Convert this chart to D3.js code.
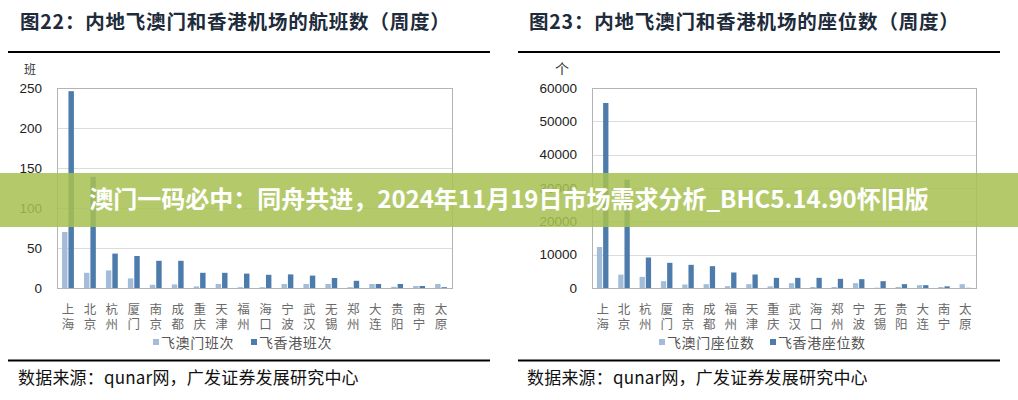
<!DOCTYPE html>
<html><head><meta charset="utf-8">
<script src="https://cdn.jsdelivr.net/npm/d3@7"></script>
<style>
html,body{margin:0;padding:0;background:#fff;}
svg{display:block;font-family:"Noto Sans CJK SC","Noto Sans",sans-serif;}
</style></head>
<body><svg id="c" width="1018" height="400"></svg>
<script>
// ---- data ----
const flightCities = ["上海","北京","杭州","厦门","南京","成都","重庆","天津","福州","海口","宁波","武汉","无锡","郑州","大连","贵阳","南宁","太原"];
const flightsMacau = [70,19,22,12,4,4.5,2,5,1,1,5,5,5,1,5,1.5,2.5,5];
const flightsHK    = [246,139,43,40,34,34,19,19,18,16.5,17,15.5,12.5,9,5,5,2.5,1];
const flightTicks  = [0,50,100,150,200,250];

const seatCities = ["上海","北京","杭州","厦门","南京","成都","福州","天津","重庆","武汉","海口","郑州","宁波","无锡","贵阳","大连","南宁","太原"];
const seatsMacau = [12300,4000,3350,2050,1050,1150,550,1150,500,1450,300,300,1450,100,300,850,300,1150];
const seatsHK    = [55500,32500,9150,7550,6950,6550,4650,4050,3050,3050,3050,2750,2650,2050,1150,850,500,50];
const seatTicks  = [0,10000,20000,30000,40000,50000,60000];

const svg = d3.select("#c");
const lightC = "#a3bdd9", darkC = "#4d7cac";

function panel(o){
  const g = svg.append("g");
  // title
  g.append("text").attr("x",o.titleX).attr("y",29).text(o.title)
    .attr("font-size",19.5).attr("font-weight","bold").attr("fill","#1d2b3b")
    .attr("letter-spacing",0.8);
  g.append("line").attr("x1",o.ruleX1).attr("x2",o.ruleX2).attr("y1",52).attr("y2",52)
    .attr("stroke","#000").attr("stroke-width",2);
  g.append("line").attr("x1",o.ruleX1).attr("x2",o.ruleX2).attr("y1",360.5).attr("y2",360.5)
    .attr("stroke","#000").attr("stroke-width",2);
  g.append("text").attr("x",o.titleX-2).attr("y",384).text("数据来源：qunar网，广发证券发展研究中心")
    .attr("font-size",17).attr("fill","#111").attr("letter-spacing",0.2);

  const x = d3.scaleBand().domain(o.cats).range([o.x0,o.x1]).paddingInner(0.46).paddingOuter(0.23);
  const xs = d3.scaleBand().domain([0,1]).range([0,x.bandwidth()]).paddingInner(0.15);
  const y = d3.scaleLinear().domain([0,o.max]).range([288,88]);

  // grid
  g.append("g").selectAll("line").data(o.ticks.slice(1)).join("line")
    .attr("x1",o.x0).attr("x2",o.x1).attr("y1",d=>Math.round(y(d))+0.5).attr("y2",d=>Math.round(y(d))+0.5)
    .attr("stroke","#dcdcdc");
  // frame
  g.append("rect").attr("x",o.x0+0.5).attr("y",88.5).attr("width",o.x1-o.x0).attr("height",200)
    .attr("fill","none").attr("stroke","#b4b4b4");

  // y axis
  const ya = g.append("g").attr("transform",`translate(${o.x0},0)`)
    .call(d3.axisLeft(y).tickValues(o.ticks).tickSize(0).tickPadding(o.tickPad).tickFormat(d3.format("d")));
  ya.select(".domain").remove();
  ya.selectAll("text").attr("font-size",13.5).attr("fill","#222").attr("font-family","Liberation Sans, Arial, sans-serif");
  g.append("text").attr("x",o.unitX).attr("y",74).attr("text-anchor","middle").text(o.unit)
    .attr("font-size",o.unitSize).attr("fill","#333");

  // bars
  const series = [o.a, o.b];
  const cols = [lightC, darkC];
  series.forEach((vals,si)=>{
    g.append("g").selectAll("rect").data(vals).join("rect")
      .attr("x",(d,i)=>x(o.cats[i])+xs(si))
      .attr("width",xs.bandwidth())
      .attr("y",d=>y(d)).attr("height",d=>288-y(d))
      .attr("fill",cols[si]);
  });

  // x labels (vertical text)
  g.append("g").selectAll("text").data(o.cats).join("text")
    .attr("x",d=>x(d)+x.bandwidth()/2).attr("y",303)
    .attr("writing-mode","vertical-rl").style("writing-mode","vertical-rl")
    .attr("font-size",12.5).attr("letter-spacing",2).attr("fill","#6a6a6a")
    .text(d=>d);

  // legend
  o.legend.forEach((L,i)=>{
    g.append("rect").attr("x",L.x).attr("y",339).attr("width",6).attr("height",6).attr("fill",cols[i]);
    g.append("text").attr("x",L.x+8).attr("y",347.5).text(L.t).attr("font-size",14).attr("fill","#555")
      .attr("letter-spacing",0.6);
  });
}

panel({title:"图22：内地飞澳门和香港机场的航班数（周度）",titleX:20,ruleX1:8,ruleX2:490,
  cats:flightCities,a:flightsMacau,b:flightsHK,max:250,ticks:flightTicks,x0:57,x1:452,tickPad:15,
  unit:"班",unitX:30,unitSize:12,
  legend:[{x:153,t:"飞澳门班次"},{x:251,t:"飞香港班次"}]});
panel({title:"图23：内地飞澳门和香港机场的座位数（周度）",titleX:529,ruleX1:518,ruleX2:1000,
  cats:seatCities,a:seatsMacau,b:seatsHK,max:60000,ticks:seatTicks,x0:592,x1:976,tickPad:15,
  unit:"个",unitX:562,unitSize:14,
  legend:[{x:659,t:"飞澳门座位数"},{x:770,t:"飞香港座位数"}]});

// banner overlay
svg.append("rect").attr("x",0).attr("y",173).attr("width",1018).attr("height",54)
  .attr("fill","rgb(168,193,82)").attr("fill-opacity",0.86);
svg.append("text").attr("x",509).attr("y",208).attr("text-anchor","middle")
  .text("澳门一码必中：同舟共进，2024年11月19日市场需求分析_BHC5.14.90怀旧版")
  .attr("font-size",24).attr("font-weight","bold").attr("fill","#fff");
</script></body></html>
